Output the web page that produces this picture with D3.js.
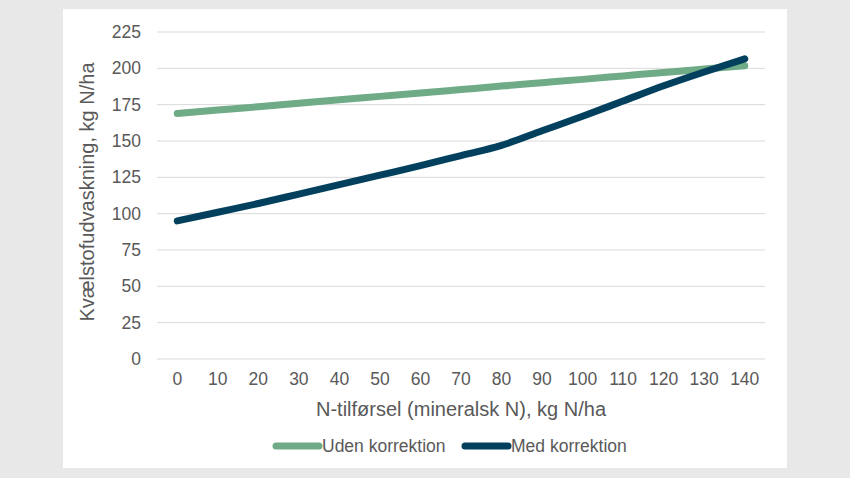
<!DOCTYPE html>
<html>
<head>
<meta charset="utf-8">
<script src="https://cdn.jsdelivr.net/npm/d3@7"></script>
<style>
  body { margin: 0; background: #e8e8e8; }
  svg { display: block; font-family: "Liberation Sans", Arial, sans-serif; }
</style>
</head>
<body>
<div id="root"></div>
<script>
const categories = [0, 10, 20, 30, 40, 50, 60, 70, 80, 90, 100, 110, 120, 130, 140];
const udenKorrektion = [169, 171.3, 173.6, 176, 178.4, 180.7, 183, 185.4, 187.8, 190.1, 192.4, 194.8, 197.2, 199.5, 201.8];
const medKorrektion = [95, 101, 107, 113.5, 120, 126.5, 133, 140, 147, 157, 167, 177.5, 188, 197.5, 206.5];
const yTicks = [0, 25, 50, 75, 100, 125, 150, 175, 200, 225];

const series = [
  { name: "Uden korrektion", values: udenKorrektion, color: "#6fab86" },
  { name: "Med korrektion", values: medKorrektion, color: "#02405e" },
];

const W = 850, H = 478;
const plot = { left: 157, right: 765, top: 32, bottom: 359 };

const svg = d3.select("#root").append("svg").attr("width", W).attr("height", H);

svg.append("rect").attr("width", W).attr("height", H).attr("fill", "#e8e8e8");
svg.append("rect")
  .attr("x", 63).attr("y", 9)
  .attr("width", 724).attr("height", 459)
  .attr("fill", "#ffffff");

const x = d3.scaleBand().domain(categories).range([plot.left, plot.right]);
const y = d3.scaleLinear().domain([0, 225]).range([plot.bottom, plot.top]);

// gridlines
svg.append("g")
  .selectAll("line")
  .data(yTicks)
  .enter()
  .append("line")
  .attr("x1", plot.left).attr("x2", plot.right)
  .attr("y1", (d) => y(d)).attr("y2", (d) => y(d))
  .attr("stroke", "#d9d9d9").attr("stroke-width", 1);

// y axis labels
const yAxis = d3.axisLeft(y).tickValues(yTicks).tickSize(0).tickPadding(0);
const gy = svg.append("g").attr("transform", "translate(141,0)").call(yAxis);
gy.select(".domain").remove();
gy.selectAll("text")
  .attr("font-size", "17.5px")
  .attr("font-family", "Liberation Sans, Arial, sans-serif")
  .attr("fill", "#595959");

// x axis labels
const xAxis = d3.axisBottom(x).tickSize(0).tickPadding(0);
const gx = svg.append("g").attr("transform", "translate(0,373)").call(xAxis);
gx.select(".domain").remove();
gx.selectAll("text")
  .attr("font-size", "17.5px")
  .attr("font-family", "Liberation Sans, Arial, sans-serif")
  .attr("fill", "#595959");

// titles
svg.append("text")
  .attr("x", (plot.left + plot.right) / 2)
  .attr("y", 416)
  .attr("text-anchor", "middle")
  .attr("font-size", "20px")
  .attr("fill", "#595959")
  .text("N-tilførsel (mineralsk N), kg N/ha");

svg.append("text")
  .attr("transform", "translate(94,192) rotate(-90)")
  .attr("text-anchor", "middle")
  .attr("font-size", "20px")
  .attr("fill", "#595959")
  .text("Kvælstofudvaskning, kg N/ha");

// lines
const line = d3.line()
  .x((d, i) => x(categories[i]) + x.bandwidth() / 2)
  .y((d) => y(d))
  .curve(d3.curveMonotoneX);

svg.append("g")
  .selectAll("path")
  .data(series)
  .enter()
  .append("path")
  .attr("d", (d) => line(d.values))
  .attr("fill", "none")
  .attr("stroke", (d) => d.color)
  .attr("stroke-width", 7)
  .attr("stroke-linecap", "round")
  .attr("stroke-linejoin", "round");

// legend
const legendX = [276, 465];
const legend = svg.append("g")
  .selectAll("g")
  .data(series)
  .enter()
  .append("g")
  .attr("transform", (d, i) => `translate(${legendX[i]},446)`);

legend.append("line")
  .attr("x1", 0).attr("x2", 43)
  .attr("stroke", (d) => d.color)
  .attr("stroke-width", 7)
  .attr("stroke-linecap", "round");

legend.append("text")
  .attr("x", 46).attr("y", 6)
  .attr("font-size", "17.5px")
  .attr("fill", "#595959")
  .text((d) => d.name);
</script>
</body>
</html>
